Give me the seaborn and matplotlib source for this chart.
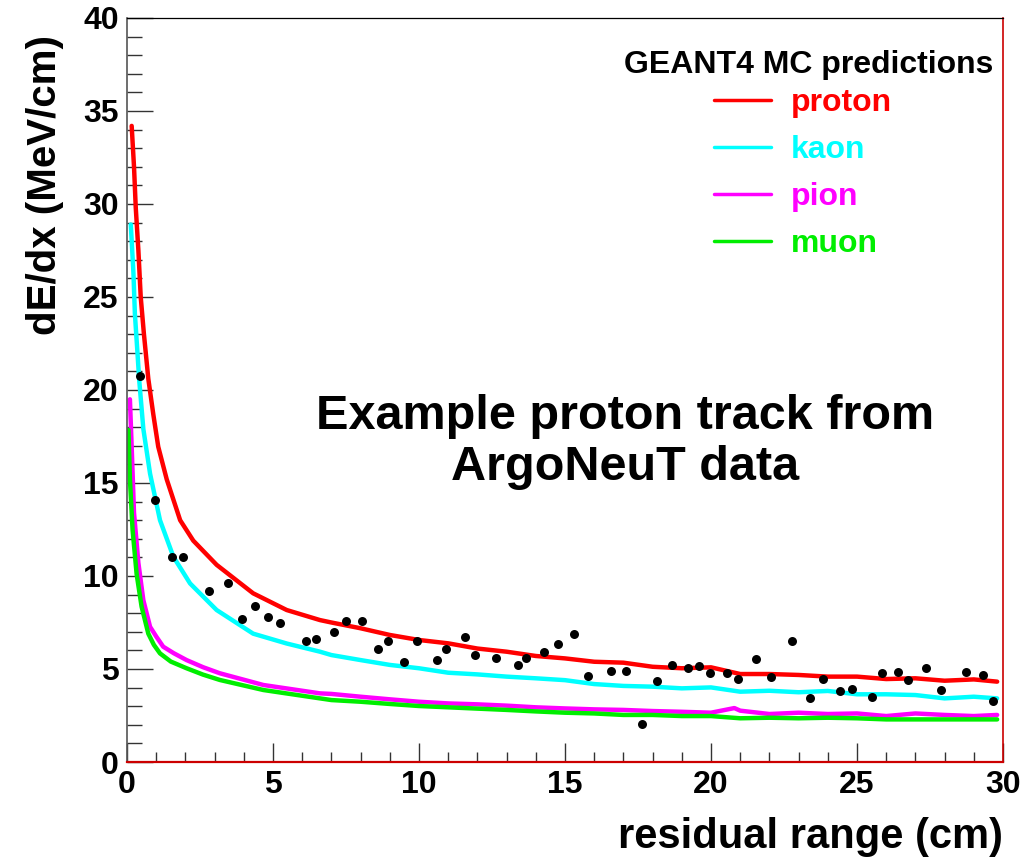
import numpy as np
import pandas as pd
import matplotlib
matplotlib.use('Agg')
import matplotlib.pyplot as plt
from matplotlib.ticker import MultipleLocator
import seaborn as sns

# GEANT4 MC prediction curves (dE/dx vs residual range)
proton_x = [0.16, 0.24, 0.30, 0.39, 0.47, 0.58, 0.73, 0.90, 1.07, 1.36, 1.82, 2.27, 3.07, 4.32,
            5.47, 6.61, 7, 8, 9, 10, 11, 12, 13, 14, 15, 16, 17, 18, 19, 20, 21, 22, 23, 24, 25,
            26, 27, 28, 29, 29.8]
proton_y = [34.2, 32.0, 29.8, 27.5, 25.0, 23.0, 20.6, 18.7, 16.95, 15.2, 13.0, 11.9, 10.6, 9.07,
            8.17, 7.63, 7.5, 7.19, 6.83, 6.56, 6.38, 6.1, 5.93, 5.7, 5.57, 5.39, 5.34, 5.12, 5.04,
            5.09, 4.73, 4.73, 4.68, 4.59, 4.59, 4.46, 4.5, 4.37, 4.44, 4.32]

kaon_x = [0.13, 0.22, 0.27, 0.35, 0.42, 0.56, 0.79, 1.13, 1.59, 2.16, 3.07, 4.32, 5.47, 6.61,
          7, 8, 9, 10, 11, 12, 13, 14, 15, 16, 17, 18, 19, 20, 21, 22, 23, 24, 25, 26, 27, 28,
          29, 29.8]
kaon_y = [28.9, 26.3, 24.1, 22.2, 20.5, 17.9, 15.5, 13.0, 11.03, 9.6, 8.17, 6.9, 6.37, 5.93,
          5.75, 5.48, 5.22, 5.04, 4.8, 4.71, 4.59, 4.5, 4.4, 4.19, 4.09, 4.05, 3.96, 4.01, 3.78,
          3.83, 3.75, 3.82, 3.64, 3.64, 3.6, 3.42, 3.51, 3.42]

pion_x = [0.10, 0.16, 0.24, 0.39, 0.56, 0.79, 1.0, 1.24, 1.6, 2.04, 2.6, 3.18, 4.67, 6.61, 7, 8,
          9, 10, 11, 12, 13, 14, 15, 16, 17, 18, 19, 20, 20.8, 21, 22, 23, 24, 25, 26, 27, 28,
          29, 29.8]
pion_y = [19.5, 16.95, 13.4, 10.7, 8.7, 7.27, 6.75, 6.2, 5.85, 5.48, 5.1, 4.77, 4.14, 3.69,
          3.66, 3.51, 3.37, 3.24, 3.15, 3.1, 3.03, 2.94, 2.88, 2.83, 2.8, 2.74, 2.7, 2.65, 2.9,
          2.76, 2.58, 2.65, 2.58, 2.61, 2.47, 2.61, 2.53, 2.47, 2.53]

muon_x = [0.05, 0.10, 0.19, 0.33, 0.50, 0.73, 0.92, 1.13, 1.5, 2.04, 2.6, 3.18, 4.67, 6.61, 7,
          8, 9, 10, 11, 12, 13, 14, 15, 16, 17, 18, 19, 20, 21, 22, 23, 24, 25, 26, 27, 28, 29,
          29.8]
muon_y = [17.85, 15.2, 12.5, 10.1, 8.35, 6.9, 6.3, 5.84, 5.4, 5.04, 4.7, 4.41, 3.87, 3.42,
          3.33, 3.24, 3.12, 3.01, 2.94, 2.87, 2.8, 2.72, 2.65, 2.61, 2.53, 2.53, 2.47, 2.47,
          2.35, 2.38, 2.35, 2.38, 2.35, 2.29, 2.29, 2.29, 2.29, 2.29]

# ArgoNeuT proton track hits
track_x = [0.45, 0.96, 1.53, 1.92, 2.8, 3.46, 3.94, 4.38, 4.83, 5.24, 6.13, 6.47, 7.09, 7.5,
           8.05, 8.6, 8.94, 9.5, 9.93, 10.6, 10.93, 11.58, 11.92, 12.64, 13.4, 13.66, 14.28,
           14.76, 15.31, 15.79, 16.59, 17.08, 17.65, 18.15, 18.65, 19.21, 19.59, 19.97, 20.54,
           20.91, 21.54, 22.04, 22.77, 23.39, 23.85, 24.42, 24.82, 25.51, 25.84, 26.42, 26.73,
           27.36, 27.88, 28.73, 29.30, 29.67]
track_y = [20.75, 14.1, 11.0, 11.0, 9.2, 9.6, 7.7, 8.4, 7.8, 7.5, 6.5, 6.6, 7.0, 7.6, 7.6, 6.1,
           6.5, 5.4, 6.5, 5.5, 6.1, 6.7, 5.75, 5.6, 5.2, 5.6, 5.9, 6.35, 6.9, 4.6, 4.9, 4.9, 2.05,
           4.33, 5.2, 5.06, 5.16, 4.77, 4.78, 4.48, 5.52, 4.55, 6.49, 3.44, 4.48, 3.81, 3.95,
           3.5, 4.77, 4.86, 4.41, 5.06, 3.87, 4.86, 4.68, 3.29]

particles = ['proton', 'kaon', 'pion', 'muon']
colors = {'proton': '#ff0000', 'kaon': '#00ffff', 'pion': '#ff00ff', 'muon': '#00ee00'}

sns.set_style('white')
plt.rcParams['font.family'] = ['Liberation Sans', 'DejaVu Sans']
plt.rcParams['font.weight'] = 'bold'
plt.rcParams['text.color'] = 'black'
plt.rcParams['axes.labelcolor'] = 'black'
plt.rcParams['xtick.labelcolor'] = 'black'
plt.rcParams['ytick.labelcolor'] = 'black'

curves = {
    'proton': (proton_x, proton_y),
    'kaon': (kaon_x, kaon_y),
    'pion': (pion_x, pion_y),
    'muon': (muon_x, muon_y),
}

fig = plt.figure(figsize=(10.29, 8.57), dpi=100)
ax = fig.add_axes([127 / 1029, 1 - 762 / 857, 876 / 1029, 744 / 857])

for name in particles:
    cx, cy = curves[name]
    df = pd.DataFrame({'x': cx, 'y': cy})
    sns.lineplot(data=df, x='x', y='y', ax=ax, color=colors[name], linewidth=3.2,
                 label=name, sort=False, estimator=None)

hits = pd.DataFrame({'x': track_x, 'y': track_y})
sns.scatterplot(data=hits, x='x', y='y', ax=ax, color='black', s=42, marker='o',
                edgecolor='black', linewidth=0, zorder=5)

ax.set_xlim(0, 30)
ax.set_ylim(0, 40)

ax.xaxis.set_major_locator(MultipleLocator(5))
ax.xaxis.set_minor_locator(MultipleLocator(1))
ax.yaxis.set_major_locator(MultipleLocator(5))
ax.yaxis.set_minor_locator(MultipleLocator(1))

ax.tick_params(axis='y', which='major', direction='in', length=19, width=1, color='#333333',
               labelsize=23, pad=6, left=True, right=False)
ax.tick_params(axis='y', which='minor', direction='in', length=10.5, width=1, color='#333333',
               left=True, right=False)
ax.tick_params(axis='x', which='major', direction='in', length=14, width=1, color='#333333',
               labelsize=23, pad=6, bottom=True, top=False)
ax.tick_params(axis='x', which='minor', direction='in', length=7, width=1, color='#333333',
               bottom=True, top=False)
for lbl in ax.get_xticklabels() + ax.get_yticklabels():
    lbl.set_fontweight('bold')

ax.spines['left'].set_color('#555555')
ax.spines['left'].set_linewidth(1.2)
ax.spines['top'].set_color('black')
ax.spines['top'].set_linewidth(0.9)
ax.spines['right'].set_color('#cc0000')
ax.spines['right'].set_linewidth(1.2)
ax.spines['bottom'].set_color('#cc0000')
ax.spines['bottom'].set_linewidth(1.6)

ax.set_xlabel('residual range (cm)', fontsize=30, fontweight='bold', loc='right', labelpad=12)
ax.set_ylabel('dE/dx (MeV/cm)', fontsize=29, fontweight='bold', loc='top')
ax.yaxis.set_label_coords(-0.072, 0.977)

ax.text(0.568, 0.43, 'Example proton track from\nArgoNeuT data', transform=ax.transAxes,
        ha='center', va='center', fontsize=35, fontweight='bold', linespacing=1.16,
        multialignment='center')

# legend title drawn as text, entries via legend
ax.text(0.9886, 0.937, 'GEANT4 MC predictions', transform=ax.transAxes,
        ha='right', va='center', fontsize=23, fontweight='bold')
leg = ax.legend(loc='upper left', bbox_to_anchor=(0.670, 0.9056), frameon=False,
                labelcolor='linecolor', prop={'weight': 'bold', 'size': 23},
                handlelength=1.8, handletextpad=0.6, labelspacing=0.53,
                borderaxespad=0, borderpad=0)
for line in leg.get_lines():
    line.set_linewidth(2.5)

fig.savefig('out.png', dpi=100, facecolor='white')
